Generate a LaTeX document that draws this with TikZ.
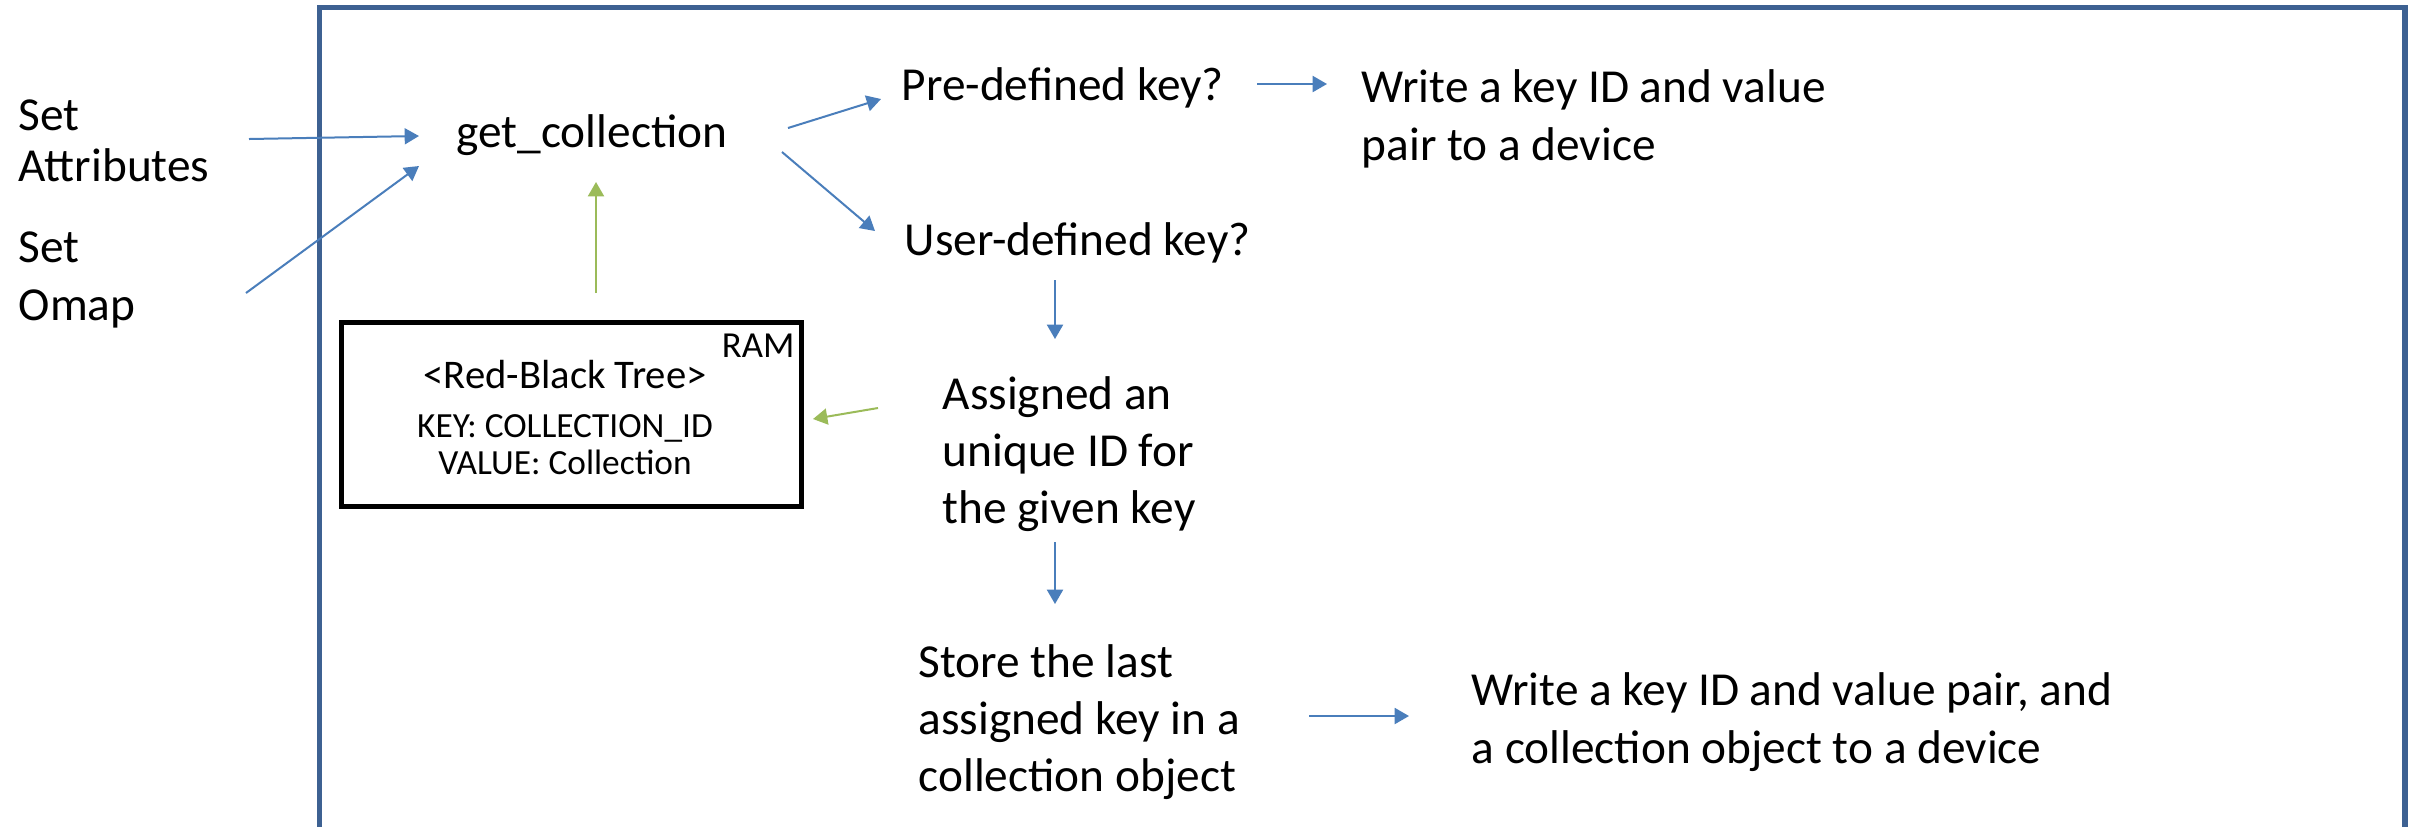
\documentclass[tikz,border=0pt]{standalone}
\usepackage{fontspec}
\setmainfont{Carlito}
\usetikzlibrary{arrows.meta}
\definecolor{frameblue}{HTML}{3D6192}
\definecolor{arrowblue}{HTML}{4A7EBB}
\definecolor{arrowgreen}{HTML}{9BBB59}

\begin{document}
\begin{tikzpicture}[x=0.3pt,y=-0.3pt,
  lbl/.style={inner sep=0pt, align=left, anchor=west, font=\fontsize{14.2}{17.2}\selectfont},
  small/.style={inner sep=0pt, font=\fontsize{10.6}{12}\selectfont},
  arr/.style={draw=arrowblue, line width=0.6pt, -{Triangle[length=4.3pt,width=4.8pt]}},
  garr/.style={arr, draw=arrowgreen}]
\useasboundingbox (0,0) rectangle (2415,826);
\clip (0,0) rectangle (2415,826);
\fill[white] (0,0) rectangle (2415,826);

% outer frame, open at the bottom
\draw[frameblue, line width=1.6pt] (319.5,840) -- (319.5,7.7) -- (2405,7.7) -- (2405,840);

% inputs
\node[lbl, font=\fontsize{14.2}{15.3}\selectfont] (attr) at (18,141) {Set\\Attributes};
\node[lbl, font=\fontsize{14.2}{17.6}\selectfont] (omap) at (18,280) {Set\\Omap};

% main flow
\node[lbl] (gc) at (456,135) {get\_collection};
\node[lbl] (pre) at (901,88) {Pre-defined key?};
\node[lbl] (w1) at (1361,119) {Write a key ID and value\\pair to a device};
\node[lbl] (user) at (904,243) {User-defined key?};
\node[lbl] (assign) at (942,454) {Assigned an\\unique ID for\\the given key};
\node[lbl] (store) at (918,722) {Store the last\\assigned key in a\\collection object};
\node[lbl] (w2) at (1471,722) {Write a key ID and value pair, and\\a collection object to a device};

% in-memory tree
\node[draw, line width=1.5pt, anchor=north west, minimum width=138pt, minimum height=55.2pt, inner sep=0pt] (ram) at (339,320) {};
\node[inner sep=0pt, anchor=east, font=\fontsize{11}{13}\selectfont] (ramlbl) at (795,346) {RAM};
\node[inner sep=0pt, font=\fontsize{12.2}{14}\selectfont] (rbt) at (565,375) {<Red-Black Tree>};
\node[small] (key) at (565,428) {KEY: COLLECTION\_ID};
\node[small] (val) at (565,462) {VALUE: Collection};

% connector end points
\coordinate (attrA) at (249,139);  \coordinate (gcA) at (419,136);
\coordinate (omapA) at (246,293);  \coordinate (gcB) at (419,166);
\coordinate (gcC) at (788,128);    \coordinate (preA) at (881,99);
\coordinate (gcD) at (782,152);    \coordinate (userA) at (875,231);
\coordinate (preB) at (1257,84);   \coordinate (w1A) at (1327,84);
\coordinate (userB) at (1055,280); \coordinate (assignA) at (1055,339);
\coordinate (assignB) at (878,408); \coordinate (ramA) at (813,419);
\coordinate (assignC) at (1055,542); \coordinate (storeA) at (1055,604);
\coordinate (storeB) at (1309,716); \coordinate (w2A) at (1409,716);
\coordinate (ramB) at (596,293);   \coordinate (gcE) at (596,182);

\draw[arr] (attrA) -- (gcA);
\draw[arr] (omapA) -- (gcB);
\draw[arr] (gcC) -- (preA);
\draw[arr] (gcD) -- (userA);
\draw[arr] (preB) -- (w1A);
\draw[arr] (userB) -- (assignA);
\draw[garr] (assignB) -- (ramA);
\draw[arr] (assignC) -- (storeA);
\draw[arr] (storeB) -- (w2A);
\draw[garr] (ramB) -- (gcE);
\end{tikzpicture}
\end{document}
